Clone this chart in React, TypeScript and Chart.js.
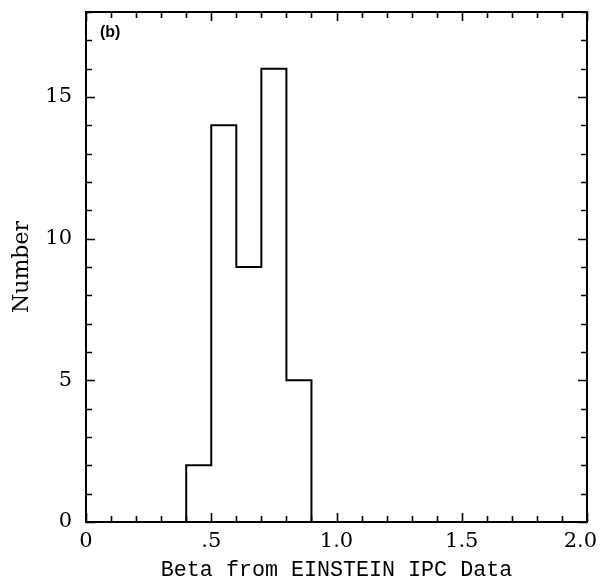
import React, { useEffect, useRef } from "react";
import { Chart, registerables } from "chart.js";

Chart.register(...registerables);

const binEdges = [0.4, 0.5, 0.6, 0.7, 0.8, 0.9];
const counts = [2, 14, 9, 16, 5];
const xTickValues = [0, 0.5, 1.0, 1.5, 2.0];
const xTickLabels = ["0", ".5", "1.0", "1.5", "2.0"];
const yTickValues = [0, 5, 10, 15];
const yTickLabels = ["0", "5", "10", "15"];
const xTitle = "Beta from EINSTEIN IPC Data";
const yTitle = "Number";
const panelLabel = "(b)";

const X_MIN = 0, X_MAX = 2, Y_MIN = 0, Y_MAX = 18;

function buildOutline() {
  const pts: { x: number; y: number }[] = [{ x: binEdges[0], y: 0 }];
  for (let i = 0; i < counts.length; i++) {
    pts.push({ x: binEdges[i], y: counts[i] });
    pts.push({ x: binEdges[i + 1], y: counts[i] });
  }
  pts.push({ x: binEdges[binEdges.length - 1], y: 0 });
  return pts;
}

const zeroPad = (s: any) => {
  s.paddingTop = 0;
  s.paddingBottom = 0;
  s.paddingLeft = 0;
  s.paddingRight = 0;
};

const framePlugin = {
  id: "frame",
  afterDraw(chart: any) {
    const { ctx, chartArea: a, scales } = chart;
    const xs = scales.x, ys = scales.y;
    ctx.save();
    ctx.strokeStyle = "#000";
    ctx.lineWidth = 2;
    ctx.strokeRect(a.left, a.top, a.right - a.left, a.bottom - a.top);
    ctx.lineWidth = 1.6;
    ctx.beginPath();
    for (let i = 0; i <= 20; i++) {
      const v = i / 10;
      const px = Math.round(xs.getPixelForValue(v)) + 0.5;
      const len = i % 5 === 0 ? 9 : 6;
      ctx.moveTo(px, a.bottom);
      ctx.lineTo(px, a.bottom - len);
      ctx.moveTo(px, a.top);
      ctx.lineTo(px, a.top + len);
    }
    for (let v = 0; v <= Y_MAX; v++) {
      const py = Math.round(ys.getPixelForValue(v)) + 0.5;
      const len = v % 5 === 0 ? 9 : 6;
      ctx.moveTo(a.left, py);
      ctx.lineTo(a.left + len, py);
      ctx.moveTo(a.right, py);
      ctx.lineTo(a.right - len, py);
    }
    ctx.stroke();
    ctx.fillStyle = "#000";
    ctx.font = "bold 16px 'Liberation Sans', Arial, sans-serif";
    ctx.textBaseline = "alphabetic";
    ctx.textAlign = "left";
    ctx.fillText(panelLabel, a.left + 14, a.top + 25);
    ctx.restore();
  },
};

export default function App() {
  const ref = useRef<HTMLCanvasElement>(null);
  useEffect(() => {
    document.body.style.margin = "0";
    const serif = "'DejaVu Serif', serif";
    const mono = "'Liberation Mono', 'Courier New', monospace";
    const chart = new Chart(ref.current!, {
      type: "line",
      data: {
        datasets: [
          {
            data: buildOutline(),
            borderColor: "#000",
            borderWidth: 2,
            pointRadius: 0,
            fill: false,
            tension: 0,
          },
        ],
      },
      options: {
        animation: false,
        responsive: false,
        parsing: false as any,
        layout: { padding: { top: 12, right: 13, left: 0, bottom: 0 } },
        plugins: { legend: { display: false }, tooltip: { enabled: false } },
        scales: {
          x: {
            type: "linear",
            min: X_MIN,
            max: X_MAX,
            afterBuildTicks: (s: any) => {
              s.ticks = xTickValues.map((v) => ({ value: v }));
            },
            afterFit: (s: any) => {
              s.height = 64;
              zeroPad(s);
            },
            grid: { display: false, drawTicks: false },
            border: { display: false },
            ticks: {
              padding: 7,
              color: "#000",
              maxRotation: 0,
              autoSkip: false,
              font: { family: serif, size: 21 },
              callback: (v: any) => {
                const i = xTickValues.findIndex((t) => Math.abs(t - Number(v)) < 1e-6);
                if (i < 0) return "";
                // keep the last label inside the page, as in the original
                return i === xTickValues.length - 1 ? xTickLabels[i] + "\u00a0\u00a0" : xTickLabels[i];
              },
            },
            title: {
              display: true,
              text: xTitle,
              color: "#000",
              font: { family: mono, size: 21.7, lineHeight: 1 },
              padding: { top: 0, bottom: 5 },
            },
          },
          y: {
            type: "linear",
            min: Y_MIN,
            max: Y_MAX,
            afterBuildTicks: (s: any) => {
              s.ticks = yTickValues.map((v) => ({ value: v }));
            },
            afterFit: (s: any) => {
              s.width = 86;
              zeroPad(s);
            },
            grid: { display: false, drawTicks: false },
            border: { display: false },
            ticks: {
              padding: 14,
              color: "#000",
              autoSkip: false,
              font: { family: serif, size: 21 },
              callback: (v: any) => {
                const i = yTickValues.findIndex((t) => Math.abs(t - Number(v)) < 1e-6);
                return i >= 0 ? yTickLabels[i] : "";
              },
            },
            title: {
              display: true,
              text: yTitle,
              color: "#000",
              font: { family: serif, size: 22, lineHeight: 1 },
              padding: { top: 11, bottom: 0 },
            },
          },
        },
      },
      plugins: [framePlugin],
    });
    return () => chart.destroy();
  }, []);
  return (
    <div style={{ width: 600, height: 586, background: "#fff" }}>
      <canvas ref={ref} width={600} height={586} />
    </div>
  );
}
